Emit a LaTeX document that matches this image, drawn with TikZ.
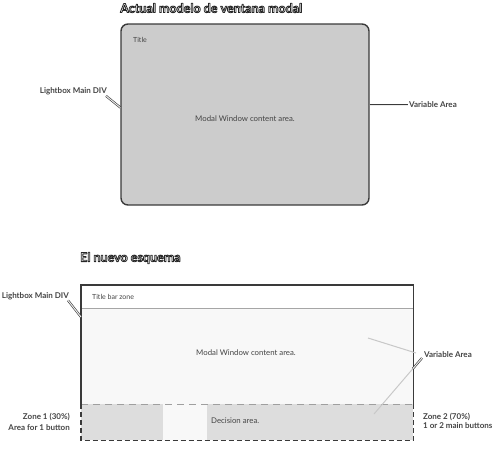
\documentclass[tikz,border=0pt]{standalone}
\usepackage{fontspec}
\setmainfont{Lato}
\usetikzlibrary{calc}
\definecolor{boxgray}{HTML}{CCCCCC}
\definecolor{darkline}{HTML}{3A3A3A}
\definecolor{txtgray}{HTML}{444444}
\definecolor{contentfill}{HTML}{F8F8F8}
\definecolor{decfill}{HTML}{DDDDDD}
\definecolor{lightline}{HTML}{C8C8C8}
\newcommand{\outlinetext}[1]{{\color{white}\special{pdf:literal direct 0.15 0.15 0.15 RG 2 Tr 0.8 w 1 j}#1\special{pdf:literal direct 0 Tr}}}
\tikzset{
  heading/.style={font=\fontsize{12.5}{13}\selectfont\bfseries, inner sep=0pt, anchor=west},
  lbl/.style={font=\fontsize{8}{10}\selectfont\bfseries, text=txtgray, inner sep=0pt},
  plain/.style={font=\fontsize{7.8}{9}\selectfont, text=txtgray, inner sep=0pt},
  small/.style={font=\fontsize{7}{8}\selectfont, text=txtgray, inner sep=0pt},
  conn/.style={draw=darkline, line width=0.6pt, double=white!85!gray, double distance=1pt},
  border/.style={draw=darkline, line width=1.4pt},
  light/.style={draw=lightline, line width=1pt},
}
\begin{document}
\begin{tikzpicture}[x=1pt,y=-1pt]
\useasboundingbox (0,0) rectangle (500,456);
% ---- top section
\node[heading] (h1) at (120,8) {\outlinetext{Actual modelo de ventana modal}};
\node[draw=darkline, line width=1.4pt, fill=boxgray, rounded corners=7pt,
      minimum width=248pt, minimum height=181pt, inner sep=0pt] (win) at (245,114.5) {};
\node[small, anchor=west] (wtitle) at (133,40) {Title};
\node[plain] (wcontent) at (245,119) {Modal Window content area.};
\node[lbl, anchor=east] (l1) at (107,91.5) {Lightbox Main DIV};
\node[lbl, anchor=west] (v1) at (409,105) {Variable Area};
\draw[conn] ([xshift=-1pt,yshift=-0.5pt]l1.south east) -- ([yshift=7pt]win.west);
\draw[conn] ([yshift=9.5pt]win.east) -- ([xshift=-1pt]v1.west);
% ---- bottom section
\node[heading] (h2) at (80,258) {\outlinetext{El nuevo esquema}};
\node[fill=white, minimum width=332pt, minimum height=23pt, inner sep=0pt, anchor=north west] (tb) at (81,285) {};
\node[fill=contentfill, minimum width=332pt, minimum height=96pt, inner sep=0pt, anchor=north west] (ca) at (81,308) {};
\node[fill=decfill, minimum width=332pt, minimum height=36pt, inner sep=0pt, anchor=north west] (da) at (81,404) {};
\node[fill=contentfill, minimum width=44pt, minimum height=36pt, inner sep=0pt, anchor=north west] (db) at (163,404) {};
\draw[draw=gray!70, line width=0.8pt] (tb.south west) -- (tb.south east);
\draw[draw=gray!75, line width=1pt, dash pattern=on 7pt off 5pt] (da.north west) -- (da.north east);
\draw[border] (da.north west) -- (tb.north west) -- (tb.north east) -- (da.north east);
\draw[draw=darkline, line width=1.4pt, dash pattern=on 5pt off 3pt] (da.north west) -- (da.south west) -- (da.south east) -- (da.north east);
\node[small, anchor=west] (tbt) at (92,297) {Title bar zone};
\node[plain] (cat) at (246,353) {Modal Window content area.};
\node[plain, anchor=west] (dat) at (211,421) {Decision area.};
% labels
\node[lbl, anchor=east] (l2) at (69,296) {Lightbox Main DIV};
\node[lbl, anchor=west] (v2) at (424,355) {Variable Area};
\node[lbl, anchor=east, align=right, font=\fontsize{8}{11}\selectfont\bfseries] (z1) at (70,421.5) {Zone 1 (30\%)\\Area for 1 button};
\node[lbl, anchor=west, align=left, font=\fontsize{8}{9.5}\selectfont\bfseries] (z2) at (423,421) {Zone 2 (70\%)\\1 or 2 main buttons};
\draw[conn] ([xshift=-1pt,yshift=-0.5pt]l2.south east) -- ([yshift=-32pt]tb.north west);
% variable area pointers
\coordinate (p1) at (368,338);
\coordinate (q1) at (416,353);
\coordinate (p2) at (374,414);
\coordinate (q2) at (422,358);
\draw[light] (p1) -- (q1);
\draw[light] (p2) -- (q2);
\draw[conn] ($(p2)!0.81!(q2)$) -- (q2);
\end{tikzpicture}
\end{document}
